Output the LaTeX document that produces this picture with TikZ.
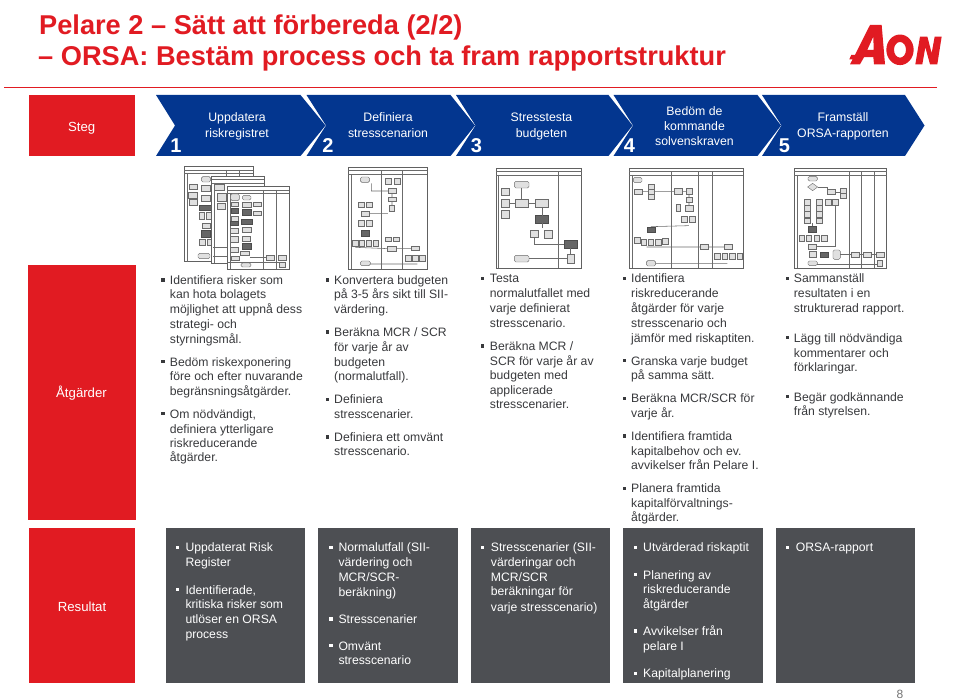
\documentclass[tikz,border=0pt]{standalone}
\usepackage{fontspec}
\setmainfont{Liberation Sans}
\definecolor{aonred}{HTML}{E11B22}
\definecolor{aonblue}{HTML}{03368F}
\definecolor{aondark}{HTML}{4D4F53}
\definecolor{txtgray}{HTML}{38393C}
\newcommand{\fs}[1]{\fontsize{#1}{#1}\selectfont}
\tikzset{
  redbox/.style={fill=aonred,draw=none},
  darkbox/.style={fill=aondark,draw=none},
  chev/.style={fill=aonblue,draw=none},
  sidelabel/.style={text=white,font=\fs{13.2},anchor=base,inner sep=0pt},
  cheflabel/.style={text=white,font=\fs{12.3},anchor=base,inner sep=0pt},
  cnum/.style={text=white,font=\fs{20}\bfseries,inner sep=0pt},
  blk/.style={text=txtgray,font=\fs{12.2},anchor=base west,inner sep=0pt},
  wht/.style={text=white,font=\fs{12.2},anchor=base west,inner sep=0pt},
  frm/.style={draw=black!62,line width=.6pt,fill=white},
  lnn/.style={draw=black!58,line width=.55pt},
  tbx/.style={draw=black!58,line width=.4pt,fill=black!12},
  tdk/.style={draw=black!70,line width=.4pt,fill=black!60},
  titletext/.style={anchor=base west,inner sep=0pt,text=aonred,font=\fs{27.2}\bfseries},
}
\newcommand{\B}[4]{\draw[tbx] ({#1-#3},{#2-#4}) rectangle ({#1+#3},{#2+#4});}
\newcommand{\D}[4]{\draw[tdk] ({#1-#3},{#2-#4}) rectangle ({#1+#3},{#2+#4});}
\newcommand{\E}[4]{\draw[tbx,rounded corners=1.5pt] ({#1-#3},{#2-#4}) rectangle ({#1+#3},{#2+#4});}
\newcommand{\Fr}[5]{\draw[frm] (#1,#2) rectangle (#3,#4); \draw[lnn] (#1,{#2+10}) -- (#3,{#2+10}) (#1,{#2+21}) -- (#3,{#2+21}) ({#1+8},{#2+21}) -- ({#1+8},#4);
  \foreach \q in {#5} {\draw[lnn] (\q,{#2+10}) -- (\q,#4);}}
\newcommand{\bul}[3]{\fill[#3] ({#1-1.7},{#2-6.1}) rectangle ({#1+1.7},{#2-2.7});}
\begin{document}
\begin{tikzpicture}[x=1pt,y=-1pt]
\useasboundingbox (0,0) rectangle (960,700);
% Title
\node[titletext] (t1) at (39,35) {Pelare 2 – Sätt att förbereda (2/2)};
\node[titletext] (t2) at (38,66) {– ORSA: Bestäm process och ta fram rapportstruktur};
\fill[aonred] (4,87) rectangle (937,88.2);
% Logo
\begin{scope}[shift={(840,12.6)},x=.3333pt,y=-.4133pt]
\fill[aonred,even odd rule] (90,30) -- (125,30) -- (135,125) -- (102,125) -- (100,108) -- (72,108) -- (60,125) -- (30,125) -- (38,113) -- (28,113) -- (34,102) -- (45,102) -- cycle
  (100,58) -- (82,90) -- (101,90) -- cycle;
\fill[aonred,even odd rule] (180,90) ellipse [x radius=41,y radius=37] (180,90) ellipse [x radius=18,y radius=19];
\fill[aonred] (226,125) -- (240,58) -- (262,58) -- (275,98) -- (284,58) -- (305,58) -- (292,125) -- (270,125) -- (256,84) -- (247,125) -- cycle;
\end{scope}
% Side boxes
\fill[redbox] (29,95) rectangle (134.5,156);
\fill[redbox] (28.3,265) rectangle (135.7,520);
\fill[redbox] (28.7,528) rectangle (135.3,683.3);
\node[sidelabel] (steg) at (81.7,131.5) {Steg};
\node[sidelabel] (atg) at (81.5,397.5) {Åtgärder};
\node[sidelabel] (res) at (82,611.5) {Resultat};
% Chevrons
\fill[chev] (156,95) -- (300.5,95) -- (325.5,125.5) -- (300.5,156) -- (156,156) -- (175,125.5) -- cycle;
\fill[chev] (306.5,95) -- (450.5,95) -- (475,125.5) -- (450.5,156) -- (306.5,156) -- (326,125.5) -- cycle;
\fill[chev] (456,95) -- (608.5,95) -- (632.5,125.5) -- (608.5,156) -- (456,156) -- (475.5,125.5) -- cycle;
\fill[chev] (613.5,95) -- (757.5,95) -- (781,125.5) -- (757.5,156) -- (613.5,156) -- (633,125.5) -- cycle;
\fill[chev] (762,95) -- (905,95) -- (924.5,125.5) -- (905,156) -- (762,156) -- (781.5,125.5) -- cycle;
\node[cnum] (n1) at (176,146) {1};
\node[cnum] (n2) at (328,146) {2};
\node[cnum] (n3) at (476.5,146) {3};
\node[cnum] (n4) at (629.5,146) {4};
\node[cnum] (n5) at (784.5,146) {5};
\node[cheflabel] (c1a) at (237,121.7) {Uppdatera};
\node[cheflabel] (c1b) at (237,137.8) {riskregistret};
\node[cheflabel] (c2a) at (388,121.7) {Definiera};
\node[cheflabel] (c2b) at (388,137.8) {stresscenarion};
\node[cheflabel] (c3a) at (541.5,121.7) {Stresstesta};
\node[cheflabel] (c3b) at (541.5,137.8) {budgeten};
\node[cheflabel] (c4a) at (694.5,115.7) {Bedöm de};
\node[cheflabel] (c4b) at (694.5,130.7) {kommande};
\node[cheflabel] (c4c) at (694.5,145.3) {solvenskraven};
\node[cheflabel] (c5a) at (843,121.3) {Framställ};
\node[cheflabel] (c5b) at (843,137.7) {ORSA-rapporten};
% Thumbnails 1 and 2
\begin{scope}[shift={(170,160)},x=.3333pt,y=-.3333pt]
\Fr{43}{20}{250}{305}{170,208}
\E{108}{58}{14}{8}\B{70}{81}{13}{7}\B{108}{85}{13}{9}\B{69}{105}{13}{9}\B{108}{115}{13}{10}\B{70}{128}{13}{9}\D{106}{144}{18}{8}\B{96}{168}{8}{10}\B{116}{168}{8}{10}\B{108}{198}{12}{8}\D{108}{222}{13}{10}\B{96}{246}{9}{9}\B{120}{246}{7}{9}\E{102}{288}{18}{8}
\Fr{125}{48}{283}{310}{}
\B{148}{83}{14}{9}\B{155}{112}{14}{12}\B{153}{138}{12}{9}
\Fr{172}{80}{357}{328}{281,318}
\E{195}{112}{13}{10}\E{230}{113}{13}{7}\B{195}{133}{10}{6}\B{230}{134}{13}{8}\B{262}{132}{11}{6}\D{194}{153}{11}{8}\D{230}{157}{13}{10}\B{262}{160}{11}{6}\B{195}{176}{11}{7}\D{230}{186}{16}{8}\D{194}{190}{12}{5}\B{193}{212}{12}{8}\B{230}{210}{13}{8}\B{193}{238}{12}{8}\B{230}{236}{12}{8}\D{230}{260}{14}{9}\B{192}{270}{12}{8}\B{225}{280}{14}{6}\B{195}{296}{12}{6}\B{302}{293}{12}{7}\B{338}{293}{12}{7}\B{338}{315}{9}{7}\E{228}{315}{15}{6}
\draw[lnn] (130,262)--(172,262) (240,293)--(290,293) (130,290)--(172,290) (172,308)--(330,308);
% thumb 2
\Fr{535}{22}{772}{328}{635,697}
\E{585}{59}{14}{8}\B{654}{63}{9}{9}\B{681}{63}{9}{9}\B{666}{93}{12}{8}\B{666}{118}{12}{7}\B{666}{145}{8}{8}\B{574}{135}{9}{8}\B{598}{135}{9}{8}\B{586}{161}{12}{8}\B{574}{190}{9}{9}\B{598}{190}{9}{9}\D{586}{220}{13}{10}\B{556}{249}{8}{9}\B{576}{249}{8}{9}\B{596}{249}{8}{9}\B{617}{249}{8}{9}\B{654}{238}{9}{7}\B{680}{238}{9}{7}\B{666}{266}{13}{8}\B{736}{265}{13}{7}\B{716}{296}{9}{9}\B{736}{296}{9}{9}\B{757}{296}{9}{9}\E{586}{310}{15}{7}
\draw[lnn] (604,70)--(604,93)--(654,93) (666,101)--(666,111) (666,125)--(666,137) (598,161)--(654,161) (556,262)--(654,266) (679,266)--(723,266) (601,312)--(742,312);
\end{scope}
% Thumbnails 3, 4 and 5
\begin{scope}[shift={(480,160)},x=.3333pt,y=-.3333pt]
\Fr{48}{24}{305}{325}{235}
\E{125}{74}{22}{10}\B{76}{96}{11}{11}\B{76}{130}{11}{12}\B{76}{162}{11}{12}\B{125}{130}{19}{11}\B{186}{130}{19}{11}\D{186}{178}{19}{11}\B{163}{222}{11}{11}\B{206}{224}{12}{12}\D{272}{253}{19}{11}\B{272}{296}{11}{13}\E{125}{296}{22}{10}
\draw[lnn] (125,84)--(125,119) (88,130)--(106,130) (144,130)--(167,130) (186,141)--(186,167) (186,189)--(186,205) (163,234)--(163,252)--(253,252) (147,296)--(261,296) (272,264)--(272,283);
% thumb 4
\Fr{448}{24}{790}{325}{574,655,697}
\E{473}{60}{13}{8}\B{476}{95}{12}{8}\B{513}{83}{9}{9}\B{513}{97}{9}{8}\B{513}{111}{9}{8}\B{596}{94}{12}{8}\B{627}{94}{9}{9}\B{627}{120}{9}{7}\B{594}{144}{6}{10}\B{627}{144}{12}{9}\B{613}{178}{9}{10}\B{637}{178}{9}{10}\D{513}{210}{12}{8}\B{472}{242}{8}{9}\B{492}{246}{8}{9}\B{513}{246}{8}{9}\B{535}{246}{8}{9}\B{556}{243}{8}{9}\B{674}{261}{12}{8}\B{744}{261}{12}{8}\B{712}{290}{8}{9}\B{734}{290}{8}{9}\B{757}{290}{8}{9}\B{779}{290}{8}{9}\E{513}{310}{14}{8}
\draw[lnn] (488,95)--(504,95) (522,95)--(584,95) (608,94)--(618,94) (627,103)--(627,113) (627,127)--(627,135) (513,200)--(627,197) (500,261)--(662,261) (686,261)--(732,261) (527,310)--(742,310);
% thumb 5
\Fr{943}{24}{1220}{325}{1108,1143,1182}
\E{998}{56}{14}{7}\draw[tbx] (998,70)--(1013,81)--(998,92)--(983,81)--cycle;
\B{1054}{96}{11}{8}\B{1090}{92}{9}{8}\B{1090}{108}{9}{8}\B{1045}{127}{8}{8}\B{1066}{127}{8}{8}\B{981}{127}{9}{8}\B{981}{145}{9}{8}\B{981}{163}{9}{8}\B{981}{183}{9}{8}\B{1018}{127}{9}{8}\B{1018}{145}{9}{8}\B{1018}{163}{9}{8}\B{1018}{183}{9}{8}\D{998}{208}{12}{8}\B{965}{235}{8}{9}\B{987}{235}{8}{9}\B{1011}{235}{8}{9}\B{1033}{235}{8}{9}\B{998}{260}{12}{8}\B{998}{284}{11}{9}\D{1033}{284}{11}{7}\E{1070}{284}{11}{14}\B{1126}{284}{13}{7}\B{1162}{284}{12}{7}\B{1201}{284}{11}{7}\B{1200}{310}{7}{8}\E{998}{310}{14}{7}
\draw[lnn] (1013,81)--(1043,81)--(1043,96) (1065,96)--(1081,96) (1066,135)--(1066,260)--(1010,260) (1081,284)--(1113,284) (1139,284)--(1150,284) (1174,284)--(1190,284) (1012,312)--(1193,312) (998,199)--(998,190);
\end{scope}
% Actions, column 1
\bul{163}{284.3}{txtgray}\bul{163}{366}{txtgray}\bul{163}{418}{txtgray}
\node[blk] (a1a) at (169.7,284.3) {Identifiera risker som};
\node[blk] (a1b) at (169.7,298.7) {kan hota bolagets};
\node[blk] (a1c) at (169.7,313.7) {möjlighet att uppnå dess};
\node[blk] (a1d) at (169.7,328) {strategi- och};
\node[blk] (a1e) at (169.7,343) {styrningsmål.};
\node[blk] (a1f) at (169.7,366) {Bedöm riskexponering};
\node[blk] (a1g) at (169.7,380.7) {före och efter nuvarande};
\node[blk] (a1h) at (169.7,395) {begränsningsåtgärder.};
\node[blk] (a1i) at (169.7,418) {Om nödvändigt,};
\node[blk] (a1j) at (169.7,433) {definiera ytterligare};
\node[blk] (a1k) at (169.7,447.7) {riskreducerande};
\node[blk] (a1l) at (169.7,461.7) {åtgärder.};
% Actions, column 2
\bul{327.3}{284.3}{txtgray}\bul{327.3}{336.3}{txtgray}\bul{327.3}{403.7}{txtgray}\bul{327.3}{441.3}{txtgray}
\node[blk] (a2a) at (334,284.3) {Konvertera budgeten};
\node[blk] (a2b) at (334,298.7) {på 3-5 års sikt till SII-};
\node[blk] (a2c) at (334,313) {värdering.};
\node[blk] (a2d) at (334,336.3) {Beräkna MCR / SCR};
\node[blk] (a2e) at (334,351) {för varje år av};
\node[blk] (a2f) at (334,366) {budgeten};
\node[blk] (a2g) at (334,380) {(normalutfall).};
\node[blk] (a2h) at (334,403.7) {Definiera};
\node[blk] (a2i) at (334,418) {stresscenarier.};
\node[blk] (a2j) at (334,441.3) {Definiera ett omvänt};
\node[blk] (a2k) at (334,455.7) {stresscenario.};
% Actions, column 3
\bul{482.7}{283}{txtgray}\bul{482.7}{350.3}{txtgray}
\node[blk] (a3a) at (489.7,283) {Testa};
\node[blk] (a3b) at (489.7,298) {normalutfallet med};
\node[blk] (a3c) at (489.7,312.7) {varje definierat};
\node[blk] (a3d) at (489.7,327) {stresscenario.};
\node[blk] (a3e) at (489.7,350.3) {Beräkna MCR /};
\node[blk] (a3f) at (489.7,365) {SCR för varje år av};
\node[blk] (a3g) at (489.7,379.7) {budgeten med};
\node[blk] (a3h) at (489.7,394) {applicerade};
\node[blk] (a3i) at (489.7,408.7) {stresscenarier.};
% Actions, column 4
\bul{624.7}{283}{txtgray}\bul{624.7}{365}{txtgray}\bul{624.7}{402.7}{txtgray}\bul{624.7}{440.3}{txtgray}\bul{624.7}{492.7}{txtgray}
\node[blk] (a4a) at (631,283) {Identifiera};
\node[blk] (a4b) at (631,298) {riskreducerande};
\node[blk] (a4c) at (631,312.7) {åtgärder för varje};
\node[blk] (a4d) at (631,327) {stresscenario och};
\node[blk] (a4e) at (631,342) {jämför med riskaptiten.};
\node[blk] (a4f) at (631,365) {Granska varje budget};
\node[blk] (a4g) at (631,379.7) {på samma sätt.};
\node[blk] (a4h) at (631,402.7) {Beräkna MCR/SCR för};
\node[blk] (a4i) at (631,417.3) {varje år.};
\node[blk] (a4j) at (631,440.3) {Identifiera framtida};
\node[blk] (a4k) at (631,455) {kapitalbehov och ev.};
\node[blk] (a4l) at (631,469.7) {avvikelser från Pelare I.};
\node[blk] (a4m) at (631,492.7) {Planera framtida};
\node[blk] (a4n) at (631,507.3) {kapitalförvaltnings-};
\node[blk] (a4o) at (631,521.7) {åtgärder.};
% Actions, column 5
\bul{787.3}{283}{txtgray}\bul{787.3}{342}{txtgray}\bul{787.3}{401}{txtgray}
\node[blk] (a5a) at (793.7,283) {Sammanställ};
\node[blk] (a5b) at (793.7,298) {resultaten i en};
\node[blk] (a5c) at (793.7,312.7) {strukturerad rapport.};
\node[blk] (a5d) at (793.7,342) {Lägg till nödvändiga};
\node[blk] (a5e) at (793.7,357) {kommentarer och};
\node[blk] (a5f) at (793.7,371.7) {förklaringar.};
\node[blk] (a5g) at (793.7,401) {Begär godkännande};
\node[blk] (a5h) at (793.7,415.7) {från styrelsen.};
% Result boxes
\fill[darkbox] (166,528.3) rectangle (305,683.3);
\fill[darkbox] (318,528.3) rectangle (457.5,683.3);
\fill[darkbox] (471,528.3) rectangle (610.3,683.3);
\fill[darkbox] (623.3,528.3) rectangle (762.7,683.3);
\fill[darkbox] (775.7,528.3) rectangle (915.3,683.3);
\bul{177.3}{551.7}{white}\bul{177.3}{594}{white}
\node[wht] (r1a) at (185.3,551.7) {Uppdaterat Risk};
\node[wht] (r1b) at (185.3,566.7) {Register};
\node[wht] (r1c) at (185.3,594) {Identifierade,};
\node[wht] (r1d) at (185.3,608.7) {kritiska risker som};
\node[wht] (r1e) at (185.3,623.3) {utlöser en ORSA};
\node[wht] (r1f) at (185.3,638) {process};
\bul{331}{551.7}{white}\bul{331}{623.3}{white}\bul{331}{650}{white}
\node[wht] (r2a) at (338.3,551.7) {Normalutfall (SII-};
\node[wht] (r2b) at (338.3,566.7) {värdering och};
\node[wht] (r2c) at (338.3,581.3) {MCR/SCR-};
\node[wht] (r2d) at (338.3,596) {beräkning)};
\node[wht] (r2e) at (338.3,623.3) {Stresscenarier};
\node[wht] (r2f) at (338.3,650) {Omvänt};
\node[wht] (r2g) at (338.3,664.7) {stresscenario};
\bul{482.7}{551.7}{white}
\node[wht] (r3a) at (490.7,551.7) {Stresscenarier (SII-};
\node[wht] (r3b) at (490.7,566.3) {värderingar och};
\node[wht] (r3c) at (490.7,581) {MCR/SCR};
\node[wht] (r3d) at (490.7,595.7) {beräkningar för};
\node[wht] (r3e) at (490.7,611) {varje stresscenario)};
\bul{635.7}{551.7}{white}\bul{635.7}{579}{white}\bul{635.7}{635.3}{white}\bul{635.7}{677.7}{white}
\node[wht] (r4a) at (643,551.7) {Utvärderad riskaptit};
\node[wht] (r4b) at (643,579) {Planering av};
\node[wht] (r4c) at (643,593.7) {riskreducerande};
\node[wht] (r4d) at (643,608.3) {åtgärder};
\node[wht] (r4e) at (643,635.3) {Avvikelser från};
\node[wht] (r4f) at (643,650) {pelare I};
\node[wht] (r4g) at (643,677.7) {Kapitalplanering};
\bul{787.7}{551.7}{white}
\node[wht] (r5a) at (795.7,551.7) {ORSA-rapport};
% Page number
\node[anchor=base,inner sep=0pt,text=black!55,font=\fs{12}] (pg) at (900,698) {8};
\end{tikzpicture}
\end{document}
